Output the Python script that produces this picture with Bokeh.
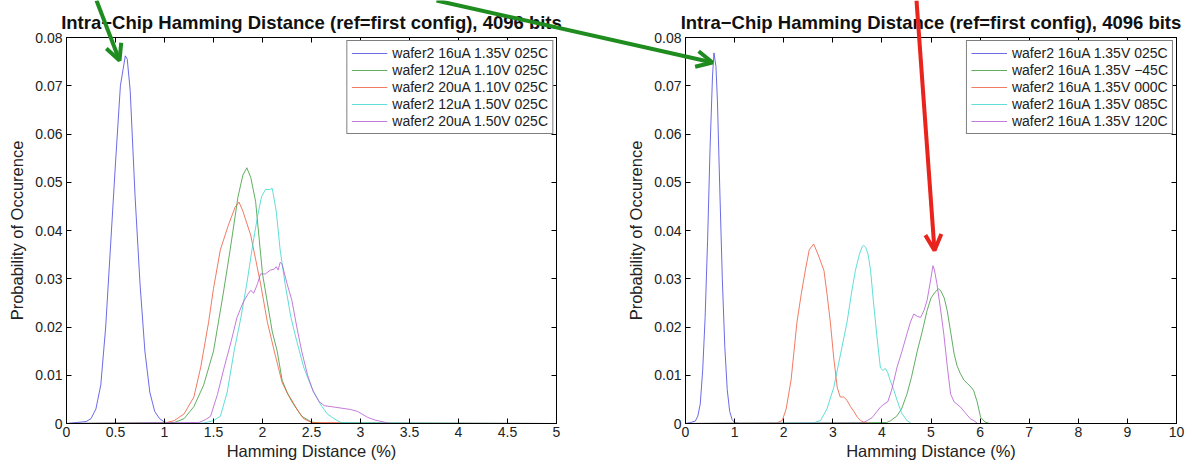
from bokeh.plotting import figure
from bokeh.models import (Range1d, FixedTicker, LinearAxis, Legend, LegendItem,
                          Arrow, OpenHead)
from bokeh.layouts import row, column
from bokeh.embed import file_html
from bokeh.resources import INLINE

TITLE = "Intra\u2212Chip Hamming Distance (ref=first config), 4096 bits"
XLABEL = "Hamming Distance (%)"
YLABEL = "Probability of Occurence"
Y_TICKS = [0, 0.01, 0.02, 0.03, 0.04, 0.05, 0.06, 0.07, 0.08]
X_TICKS_LEFT = [0, 0.5, 1, 1.5, 2, 2.5, 3, 3.5, 4, 4.5, 5]
X_TICKS_RIGHT = [0, 1, 2, 3, 4, 5, 6, 7, 8, 9, 10]

# ---------------- left panel (supply voltage / current) ----------------
L_LABELS = ["wafer2 16uA 1.35V 025C", "wafer2 12uA 1.10V 025C", "wafer2 20uA 1.10V 025C",
            "wafer2 12uA 1.50V 025C", "wafer2 20uA 1.50V 025C"]
L_blue_x = [0, 0.1, 0.2, 0.25, 0.3, 0.35, 0.4, 0.45, 0.5, 0.55, 0.6, 0.62, 0.65, 0.7, 0.75,
            0.8, 0.85, 0.9, 0.95, 1.0, 1.05, 1.1, 5.0]
L_blue_y = [0, 0.0002, 0.0004, 0.001, 0.003, 0.008, 0.02, 0.037, 0.054, 0.070, 0.0762, 0.0755,
            0.069, 0.047, 0.029, 0.015, 0.0065, 0.0025, 0.001, 0.0003, 0.0001, 0, 0]
L_green_x = [0, 1.1, 1.2, 1.3, 1.4, 1.5, 1.6, 1.67, 1.75, 1.8, 1.84, 1.88, 1.93, 2.0, 2.1,
             2.15, 2.2, 2.25, 2.3, 2.4, 2.5, 2.6, 5]
L_green_y = [0, 0.0002, 0.001, 0.0035, 0.008, 0.015, 0.027, 0.036, 0.047, 0.0515, 0.053, 0.051,
             0.046, 0.031, 0.019, 0.015, 0.009, 0.0065, 0.0045, 0.0015, 0.0003, 0, 0]
L_red_x = [0, 1.0, 1.1, 1.2, 1.3, 1.37, 1.45, 1.5, 1.57, 1.65, 1.72, 1.76, 1.8, 1.88, 1.98,
           2.05, 2.12, 2.2, 2.26, 2.3, 2.35, 2.42, 2.5, 5]
L_red_y = [0, 0.0001, 0.0006, 0.002, 0.0055, 0.0117, 0.021, 0.028, 0.036, 0.041, 0.0448, 0.0459,
           0.044, 0.039, 0.029, 0.021, 0.015, 0.0085, 0.006, 0.0048, 0.003, 0.001, 0.0002, 0]
L_cyan_x = [0, 1.4, 1.5, 1.57, 1.64, 1.71, 1.78, 1.84, 1.9, 1.95, 1.99, 2.03, 2.07, 2.1, 2.14,
            2.18, 2.23, 2.29, 2.35, 2.42, 2.5, 2.59, 2.66, 2.73, 2.8, 5]
L_cyan_y = [0, 0.0001, 0.0006, 0.0015, 0.0065, 0.015, 0.022, 0.029, 0.037, 0.043, 0.047, 0.0485,
            0.0485, 0.0487, 0.044, 0.036, 0.029, 0.022, 0.017, 0.0117, 0.0075, 0.004, 0.002,
            0.001, 0.0002, 0]
L_mag_x = [0, 1.35, 1.42, 1.47, 1.54, 1.61, 1.68, 1.74, 1.8, 1.85, 1.88, 1.91, 1.95, 1.98,
           2.03, 2.08, 2.12, 2.14, 2.16, 2.18, 2.2, 2.25, 2.3, 2.35, 2.4, 2.46, 2.52, 2.58,
           2.63, 2.7, 2.8, 2.9, 2.97, 3.07, 3.15, 3.24, 3.3, 5]
L_mag_y = [0, 0.0002, 0.0008, 0.0015, 0.006, 0.0117, 0.017, 0.022, 0.025, 0.0268, 0.0276,
           0.027, 0.029, 0.031, 0.031, 0.0318, 0.032, 0.0325, 0.0318, 0.0334, 0.033, 0.029,
           0.0255, 0.02, 0.015, 0.01, 0.0065, 0.0045, 0.0037, 0.0035, 0.0032, 0.0029, 0.0025,
           0.0013, 0.0007, 0.0003, 0, 0]

# ---------------- right panel (temperature) ----------------
R_LABELS = ["wafer2 16uA 1.35V 025C", "wafer2 16uA 1.35V \u221245C", "wafer2 16uA 1.35V 000C",
            "wafer2 16uA 1.35V 085C", "wafer2 16uA 1.35V 120C"]
R_blue_x = [0, 0.1, 0.2, 0.25, 0.3, 0.35, 0.4, 0.45, 0.5, 0.55, 0.58, 0.62, 0.65, 0.7, 0.75,
            0.8, 0.85, 0.9, 0.95, 1.0, 1.1, 10]
R_blue_y = [0, 0.0002, 0.0005, 0.0015, 0.004, 0.011, 0.022, 0.038, 0.057, 0.072, 0.0768, 0.074,
            0.067, 0.048, 0.030, 0.016, 0.007, 0.0025, 0.0008, 0.0002, 0, 0]
R_green_x = [0, 4.1, 4.18, 4.3, 4.4, 4.51, 4.6, 4.72, 4.82, 4.92, 5.0, 5.08, 5.15, 5.2, 5.27,
             5.33, 5.4, 5.47, 5.53, 5.6, 5.67, 5.75, 5.82, 5.87, 5.94, 6.01, 6.1, 6.2, 10]
R_green_y = [0, 0.0002, 0.0006, 0.0015, 0.003, 0.0061, 0.0095, 0.015, 0.019, 0.0234, 0.026,
             0.0272, 0.0279, 0.0275, 0.026, 0.0234, 0.019, 0.0145, 0.012, 0.0103, 0.009,
             0.0082, 0.0075, 0.0068, 0.0045, 0.0013, 0.0003, 0, 0]
R_red_x = [0, 1.85, 1.97, 2.05, 2.15, 2.27, 2.36, 2.44, 2.52, 2.58, 2.61, 2.66, 2.72, 2.82,
           2.88, 2.95, 3.02, 3.09, 3.15, 3.22, 3.29, 3.36, 3.43, 3.5, 3.57, 3.64, 3.75, 10]
R_red_y = [0, 0.0001, 0.0006, 0.003, 0.009, 0.021, 0.027, 0.0317, 0.036, 0.0368, 0.0372, 0.036,
           0.0345, 0.0317, 0.027, 0.021, 0.0135, 0.0075, 0.0055, 0.0055, 0.0048, 0.0035,
           0.0025, 0.0013, 0.0006, 0.0002, 0, 0]
R_cyan_x = [0, 2.6, 2.75, 2.88, 3.02, 3.15, 3.29, 3.38, 3.46, 3.54, 3.6, 3.63, 3.67, 3.72,
            3.77, 3.83, 3.9, 3.97, 4.02, 4.07, 4.12, 4.17, 4.24, 4.31, 4.4, 4.51, 4.6, 10]
R_cyan_y = [0, 0.0001, 0.0006, 0.003, 0.0075, 0.014, 0.021, 0.027, 0.0317, 0.035, 0.0367,
            0.0369, 0.0365, 0.035, 0.0317, 0.025, 0.0179, 0.0115, 0.011, 0.0114, 0.0105,
            0.0089, 0.007, 0.0048, 0.0022, 0.0006, 0, 0]
R_mag_x = [0, 3.6, 3.7, 3.8, 3.9, 3.97, 4.04, 4.12, 4.2, 4.31, 4.41, 4.51, 4.58, 4.65, 4.72,
           4.79, 4.86, 4.92, 4.98, 5.02, 5.04, 5.07, 5.12, 5.19, 5.26, 5.33, 5.4, 5.47, 5.53,
           5.6, 5.7, 5.8, 5.87, 5.95, 10]
R_mag_y = [0, 0.0001, 0.0006, 0.0012, 0.0025, 0.0034, 0.004, 0.0045, 0.007, 0.0117, 0.015,
           0.0186, 0.021, 0.0227, 0.0222, 0.022, 0.0235, 0.0255, 0.029, 0.0315, 0.0327,
           0.0318, 0.029, 0.024, 0.0186, 0.012, 0.0061, 0.0045, 0.004, 0.0034, 0.0022, 0.001,
           0.0006, 0, 0]

# hand-drawn annotation arrows over the whole picture, in page pixels
# (x_start, y_start, x_end, y_end, colour)
ARROWS = [(96, 0, 119, 60, "#1f8c1f"),
          (436, 0, 712, 62, "#1f8c1f"),
          (916, 0, 934, 250, "#e8241c")]

COLORS = ["#4646e0", "#3a9a3a", "#ec5a3c", "#38d4cc", "#b45ad2"]
FONT = "Liberation Sans"


def make_panel(series, labels, xmax, xticks, border_left, border_right):
    p = figure(width=596, height=464, output_backend="svg", toolbar_location=None,
               x_range=Range1d(0, xmax), y_range=Range1d(0, 0.08),
               min_border_left=border_left, min_border_right=border_right,
               min_border_top=37, min_border_bottom=41)
    p.title.text = TITLE
    p.title.align = "center"
    p.title.text_font = FONT
    p.title.text_font_size = "18.5px"
    p.title.text_font_style = "bold"
    p.title.text_color = "#111111"
    p.title.standoff = 9
    p.grid.visible = False
    p.outline_line_color = "black"
    p.outline_line_width = 1
    p.background_fill_color = "white"
    p.border_fill_color = "white"

    items = []
    for (xs, ys), lab, col in zip(series, labels, COLORS):
        r = p.line(xs, ys, line_color=col, line_width=1, line_alpha=0.8)
        items.append(LegendItem(label=lab, renderers=[r]))

    xa = p.xaxis[0]
    ya = p.yaxis[0]
    xa.ticker = FixedTicker(ticks=xticks)
    xa.major_label_overrides = {t: f"{t:g}" for t in xticks}
    ya.ticker = FixedTicker(ticks=Y_TICKS)
    ya.major_label_overrides = {t: f"{t:g}" for t in Y_TICKS}
    for ax in (xa, ya):
        ax.major_tick_in = 5
        ax.major_tick_out = 0
        ax.minor_tick_line_color = None
        ax.axis_line_color = "black"
        ax.major_tick_line_color = "black"
        ax.major_label_text_font = FONT
        ax.major_label_text_font_size = "14px"
        ax.major_label_text_color = "#222222"
        ax.axis_label_text_font = FONT
        ax.axis_label_text_font_size = "16.5px"
        ax.axis_label_text_font_style = "normal"
        ax.axis_label_text_color = "#222222"
    xa.axis_label = XLABEL
    ya.axis_label = YLABEL
    xa.major_label_standoff = 3
    xa.axis_label_standoff = 2
    ya.major_label_standoff = 4
    ya.axis_label_standoff = 6

    # box ticks on top and right, as in the original
    top = LinearAxis(ticker=FixedTicker(ticks=xticks), major_tick_in=5, major_tick_out=0,
                     minor_tick_line_color=None, major_label_text_font_size="0px",
                     major_label_standoff=0, axis_line_color="black")
    right = LinearAxis(ticker=FixedTicker(ticks=Y_TICKS), major_tick_in=5, major_tick_out=0,
                       minor_tick_line_color=None, major_label_text_font_size="0px",
                       major_label_standoff=0, axis_line_color="black")
    p.add_layout(top, "above")
    p.add_layout(right, "right")

    leg = Legend(items=items, location="top_right")
    leg.label_text_font = FONT
    leg.label_text_font_size = "14px"
    leg.label_text_color = "#222222"
    leg.label_height = 14
    leg.glyph_height = 14
    leg.glyph_width = 36
    leg.label_standoff = 5
    leg.spacing = 1
    leg.padding = 4
    leg.margin = 3
    leg.border_line_color = "black"
    leg.border_line_width = 1
    leg.background_fill_alpha = 1
    p.add_layout(leg, "center")
    return p


left = make_panel([(L_blue_x, L_blue_y), (L_green_x, L_green_y), (L_red_x, L_red_y),
                   (L_cyan_x, L_cyan_y), (L_mag_x, L_mag_y)],
                  L_LABELS, 5, X_TICKS_LEFT, 66, 40)
right = make_panel([(R_blue_x, R_blue_y), (R_green_x, R_green_y), (R_red_x, R_red_y),
                    (R_cyan_x, R_cyan_y), (R_mag_x, R_mag_y)],
                   R_LABELS, 10, X_TICKS_RIGHT, 89, 16)

# transparent overlay for the annotation arrows (they cross both panels)
overlay = figure(width=1192, height=464, output_backend="svg", toolbar_location=None,
                 x_range=Range1d(0, 1192), y_range=Range1d(464, 0),
                 x_axis_type=None, y_axis_type=None, min_border=0,
                 outline_line_color=None, background_fill_alpha=0, border_fill_alpha=0,
                 styles={"position": "absolute", "left": "0px", "top": "0px",
                         "pointer-events": "none"})
overlay.grid.visible = False
for xs, ys, xe, ye, col in ARROWS:
    overlay.add_layout(Arrow(x_start=xs, y_start=ys, x_end=xe, y_end=ye,
                             line_color=col, line_width=4,
                             end=OpenHead(line_color=col, line_width=4, size=16)))

layout = column(row(left, right), overlay, styles={"position": "relative"})
open("out.html", "w").write(file_html(layout, INLINE))
